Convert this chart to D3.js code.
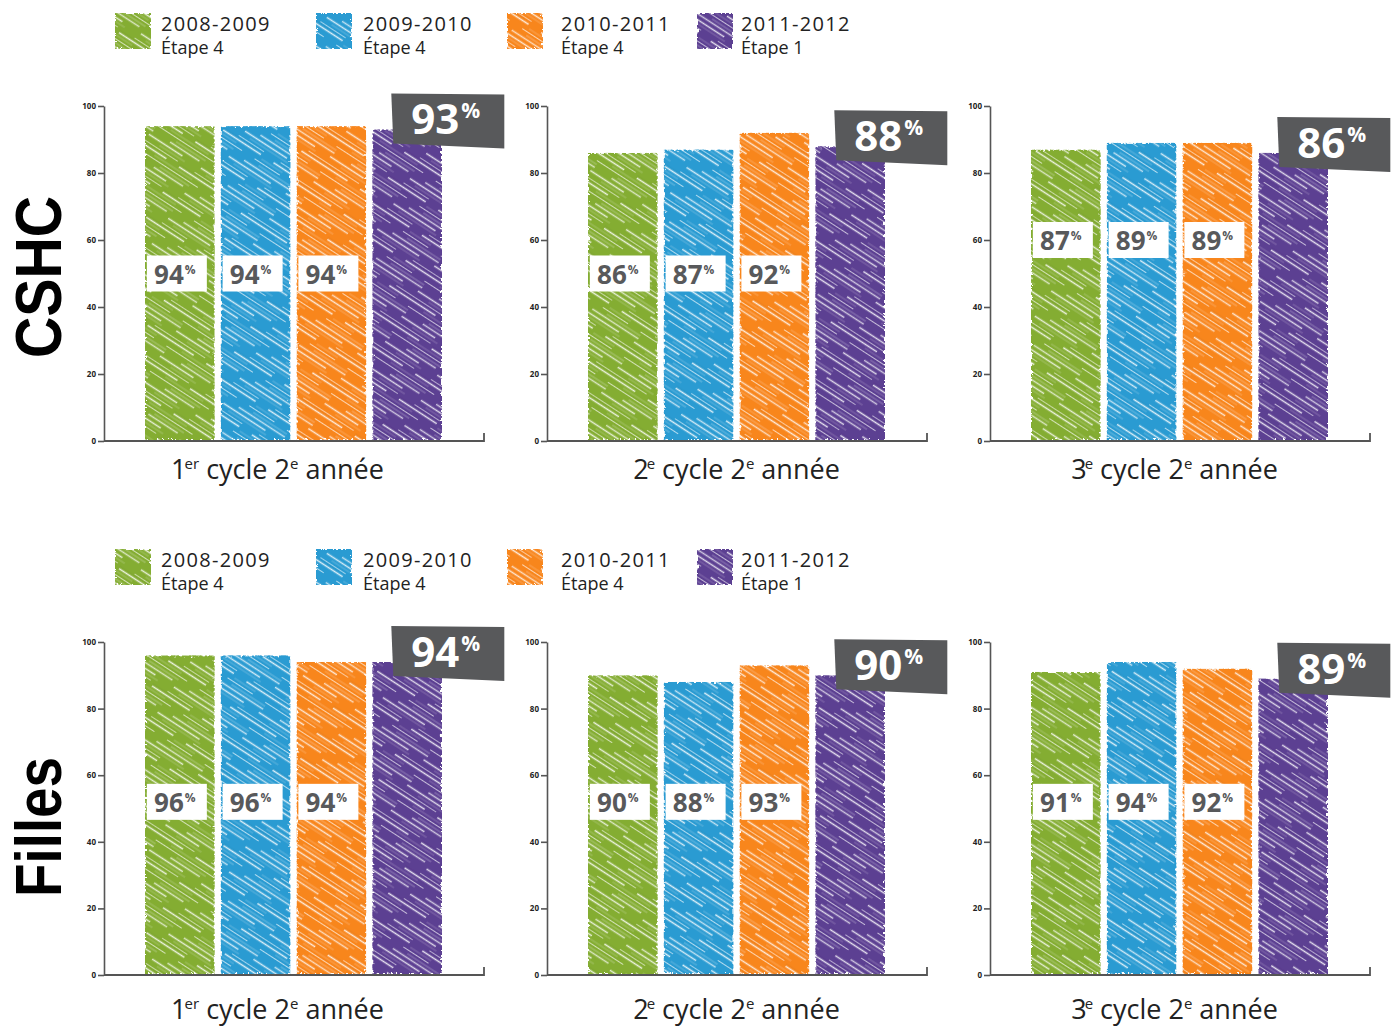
<!DOCTYPE html>
<html><head><meta charset="utf-8">
<script src="https://cdn.jsdelivr.net/npm/d3@7"></script>
<style>
html,body{margin:0;padding:0;background:#fff;}
svg{display:block;}
</style></head>
<body>
<script>
// ---------- data ----------
const seriesYears = ["2008-2009", "2009-2010", "2010-2011", "2011-2012"];
const seriesStages = ["Étape 4", "Étape 4", "Étape 4", "Étape 1"];
const groups = ["CSHC", "Filles"];
const categoryNum = ["1", "2", "3"];
const categorySup = ["er", "e", "e"];
const cshcValues = [[94, 94, 94, 93], [86, 87, 92, 88], [87, 89, 89, 86]];
const fillesValues = [[96, 96, 94, 94], [90, 88, 93, 90], [91, 94, 92, 89]];
const yTicks = [0, 20, 40, 60, 80, 100];

// ---------- style / layout ----------
const colors = ["#84ad33", "#2a9bd2", "#f8861e", "#5c3f92"];
const W = 1393, H = 1028;
const rows = [
  {top: 106, bottom: 441, legendY: 12, titleY: 277, titleLen: 162, labelY: 479, values: cshcValues, levels: [50, 50, 60]},
  {top: 642, bottom: 975, legendY: 548, titleY: 827, titleLen: 140, labelY: 1019, values: fillesValues, levels: [52, 52, 52]}
];
const panelX = [104, 547, 990];
const catLabelShift = [-16, 0, -5];
const legendSwatchX = [115, 316, 507, 697];
const legendTextX = [161, 363, 561, 741];
const boxGray = "#58595b";

const svg = d3.select("body").append("svg").attr("width", W).attr("height", H);
const defs = svg.append("defs");

// rough edge filter: erode the alpha with noise, keep the fill straight
const f = defs.append("filter").attr("id", "rough").attr("x", "-5%").attr("y", "-5%").attr("width", "110%").attr("height", "110%");
f.append("feTurbulence").attr("type", "fractalNoise").attr("baseFrequency", "0.35").attr("numOctaves", 2).attr("seed", 5).attr("result", "noise");
f.append("feDisplacementMap").attr("in", "SourceAlpha").attr("in2", "noise").attr("scale", 7)
  .attr("xChannelSelector", "R").attr("yChannelSelector", "G").attr("result", "ra");
f.append("feComposite").attr("in", "SourceGraphic").attr("in2", "ra").attr("operator", "in");

// hatch patterns (streaks with staggered gaps)
const PW = 130, PH = 30;
const streaks = [
  {y: 1.5, w: 1.5, o: 0.8, d: "50 18 40 22", off: 0},
  {y: 5, w: 0.7, o: 0.35, d: "30 25 45 30", off: 47},
  {y: 8.5, w: 1.1, o: 0.55, d: "60 20 30 20", off: 83},
  {y: 12.5, w: 1.7, o: 0.85, d: "45 15 55 15", off: 19},
  {y: 16, w: 0.7, o: 0.35, d: "25 30 45 30", off: 101},
  {y: 19.5, w: 1.2, o: 0.65, d: "70 15 30 15", off: 62},
  {y: 23, w: 0.8, o: 0.4, d: "35 30 40 25", off: 35},
  {y: 26.5, w: 1.4, o: 0.7, d: "55 20 35 20", off: 115}
];
colors.forEach((c, i) => {
  const p = defs.append("pattern").attr("id", "hatch" + i)
    .attr("patternUnits", "userSpaceOnUse").attr("width", PW).attr("height", PH)
    .attr("patternTransform", `rotate(33) translate(${i * 17},${i * 5})`);
  p.append("rect").attr("width", PW).attr("height", PH).attr("fill", c);
  p.append("line").attr("x1", 0).attr("x2", PW).attr("y1", 10.5).attr("y2", 10.5)
    .attr("stroke", d3.color(c).darker(0.25)).attr("stroke-width", 2).attr("stroke-opacity", 0.35)
    .attr("stroke-dasharray", "40 25 35 30").attr("stroke-dashoffset", 20);
  streaks.forEach(s => {
    p.append("line").attr("x1", 0).attr("x2", PW).attr("y1", s.y).attr("y2", s.y)
      .attr("stroke", "#fff").attr("stroke-width", s.w).attr("stroke-opacity", s.o)
      .attr("stroke-dasharray", s.d).attr("stroke-dashoffset", s.off);
  });
});

const font = "'Open Sans', 'DejaVu Sans', sans-serif";

rows.forEach((row, ri) => {
  // legend
  const lg = svg.append("g").attr("transform", `translate(0,${row.legendY})`);
  seriesYears.forEach((yr, i) => {
    lg.append("rect").attr("x", legendSwatchX[i]).attr("y", 1).attr("width", 36).attr("height", 36)
      .attr("fill", `url(#hatch${i})`).attr("filter", "url(#rough)");
    lg.append("text").attr("x", legendTextX[i]).attr("y", 19).text(yr)
      .attr("font-family", font).attr("font-size", 20).attr("fill", "#222").attr("letter-spacing", 1.3);
    lg.append("text").attr("x", legendTextX[i]).attr("y", 42).text(seriesStages[i])
      .attr("font-family", font).attr("font-size", 18).attr("fill", "#222");
  });

  // row title
  svg.append("text").attr("transform", `translate(61,${row.titleY}) rotate(-90)`)
    .attr("text-anchor", "middle").attr("font-family", "'Liberation Sans', Arial, sans-serif").attr("font-weight", 700)
    .attr("font-size", 64).attr("fill", "#000")
    .attr("textLength", row.titleLen).attr("lengthAdjust", "spacingAndGlyphs")
    .text(groups[ri]);

  const y = d3.scaleLinear().domain([0, 100]).range([row.bottom, row.top]);

  categoryNum.forEach((cn, pi) => {
    const ax = panelX[pi];
    const x = d3.scaleBand().domain(seriesYears).range([ax + 41, ax + 338]).paddingInner(0.08);
    const g = svg.append("g");
    const vals = row.values[pi];

    // y axis
    const ya = g.append("g").attr("transform", `translate(${ax},0)`)
      .call(d3.axisLeft(y).tickValues(yTicks).tickSize(6).tickSizeOuter(0).tickPadding(2));
    ya.select(".domain").attr("stroke", "#555").attr("stroke-width", 1.6);
    ya.selectAll(".tick line").attr("stroke", "#555").attr("stroke-width", 1.6);
    ya.selectAll(".tick text").attr("font-family", font).attr("font-weight", 700)
      .attr("font-size", 8).attr("fill", "#222");

    // x axis baseline
    g.append("path").attr("d", `M${ax},${row.bottom}H${ax + 380}V${row.bottom - 8}`)
      .attr("fill", "none").attr("stroke", "#555").attr("stroke-width", 1.8);

    // bars
    g.append("g").selectAll("rect").data(vals).join("rect")
      .attr("x", (d, i) => x(seriesYears[i]))
      .attr("y", d => y(d))
      .attr("width", x.bandwidth())
      .attr("height", d => y(0) - y(d) - 1)
      .attr("fill", (d, i) => `url(#hatch${i})`)
      .attr("filter", "url(#rough)");

    // small value boxes for first 3 series
    const lvl = row.levels[pi];
    vals.slice(0, 3).forEach((v, i) => {
      const cx = x(seriesYears[i]) + x.bandwidth() / 2 - 3;
      const cy = y(lvl);
      const bg = g.append("g").attr("transform", `translate(${cx},${cy})`);
      bg.append("rect").attr("x", -30).attr("y", -18).attr("width", 60).attr("height", 36).attr("fill", "#fff");
      const t = bg.append("text").attr("x", -2).attr("y", 10).attr("text-anchor", "middle")
        .attr("font-family", font).attr("font-weight", 700).attr("fill", "#58595b");
      t.append("tspan").attr("font-size", 26).text(v);
      t.append("tspan").attr("font-size", 12).attr("dy", -10).attr("dx", 1).text("%");
    });

    // big dark box for last series
    const lv = vals[3];
    const bx = x(seriesYears[3]) + 19;
    const by = y(lv) - 36;
    const bb = g.append("g").attr("transform", `translate(${bx},${by})`);
    bb.append("path").attr("d", "M0,0L113,1L113,55L2,50Z").attr("fill", boxGray);
    const bt = bb.append("text").attr("x", 20).attr("y", 41)
      .attr("font-family", font).attr("font-weight", 700).attr("fill", "#fff");
    bt.append("tspan").attr("font-size", 42).text(lv);
    bt.append("tspan").attr("font-size", 21).attr("dy", -16).attr("dx", 2).text("%");

    // category label
    const lx = ax + 41 + 297 / 2 + catLabelShift[pi];
    const lt = g.append("text").attr("x", lx).attr("y", row.labelY).attr("text-anchor", "middle")
      .attr("font-family", font).attr("font-size", 27).attr("fill", "#222");
    lt.append("tspan").text(cn);
    lt.append("tspan").attr("font-size", 15).attr("dy", -10).attr("dx", -2).text(categorySup[pi]);
    lt.append("tspan").attr("dy", 10).text(" cycle 2");
    lt.append("tspan").attr("font-size", 15).attr("dy", -10).text("e");
    lt.append("tspan").attr("dy", 10).text(" année");
  });
});
</script>
</body></html>
